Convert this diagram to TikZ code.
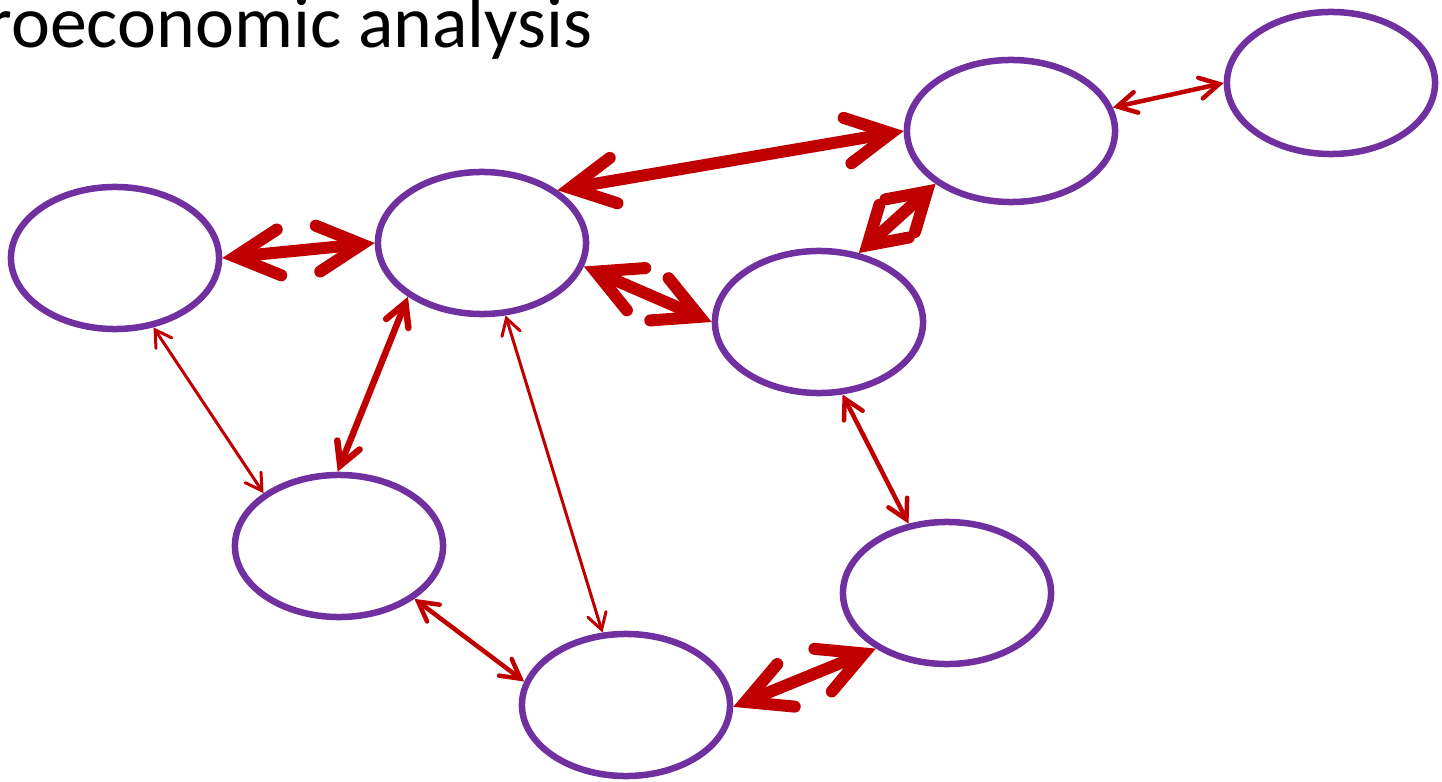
\documentclass[tikz,border=0pt]{standalone}
\usepackage{fontspec}
\setmainfont{Carlito}
\usetikzlibrary{arrows.meta,shapes.geometric}
\definecolor{ringpurple}{HTML}{7030A0}
\definecolor{linkred}{HTML}{C00000}
\tikzset{
  ring/.style={ellipse, draw=ringpurple, line width=0.065cm, minimum width=2.08cm, minimum height=1.42cm, inner sep=0pt},
  linkbase/.style={draw=linkred, line cap=round},
  thicklink/.style={linkbase, line width=0.12cm, {Straight Barb[length=0.44cm, width=0.46cm, line cap=round, line join=miter]}-{Straight Barb[length=0.44cm, width=0.46cm, line cap=round, line join=miter]}},
  diamondlink/.style={linkbase, line width=0.12cm, {Straight Barb[length=0.36cm, width=0.44cm, line cap=round, line join=miter]}-{Straight Barb[length=0.36cm, width=0.44cm, line cap=round, line join=miter]}},
  medlink/.style={linkbase, line width=0.065cm, {Straight Barb[length=0.22cm, width=0.24cm, line cap=round, line join=miter]}-{Straight Barb[length=0.22cm, width=0.24cm, line cap=round, line join=miter]}},
  thinlink/.style={linkbase, line width=0.045cm, {Straight Barb[length=0.19cm, width=0.21cm, line cap=round, line join=miter]}-{Straight Barb[length=0.19cm, width=0.21cm, line cap=round, line join=miter]}},
  hairlink/.style={linkbase, line width=0.03cm, {Straight Barb[length=0.16cm, width=0.19cm, line cap=round, line join=miter]}-{Straight Barb[length=0.16cm, width=0.19cm, line cap=round, line join=miter]}},
}
\begin{document}
\begin{tikzpicture}[x=0.01cm, y=-0.01cm]
\useasboundingbox (0,0) rectangle (1442,782);
\clip (0,0) rectangle (1442,782);
\fill[white] (0,0) rectangle (1442,782);
\node[anchor=base west, inner sep=0pt, font=\fontsize{21pt}{25pt}\selectfont] (title) at (-14,48) {roeconomic analysis};
\node[ring] (e1) at (115,258) {};
\node[ring] (e2) at (482,243) {};
\node[ring] (e3) at (1011,131) {};
\node[ring] (e4) at (1331,83) {};
\node[ring] (e5) at (819,322) {};
\node[ring] (e6) at (339,546) {};
\node[ring] (e7) at (626,705) {};
\node[ring] (e8) at (947,593) {};
\draw[thicklink] (e1.0) -- (e2.180);
\draw[thicklink] (e2.35) -- (e3.180);
\draw[thinlink] (e3.13) -- (e4.180);
\draw[diamondlink] (e5.60) -- (e3.215);
\draw[thicklink] (e2.-13) -- (e5.180);
\draw[hairlink] (e1.-61) -- (e6.145);
\draw[medlink] (e2.216) -- (e6.91);
\draw[hairlink] (e2.-72) -- (e7.108);
\draw[thinlink] (e5.-72) -- (e8.119);
\draw[thinlink] (e6.-35) -- (e7.167);
\draw[thicklink] (e7.-1) -- (e8.218);
\end{tikzpicture}
\end{document}
